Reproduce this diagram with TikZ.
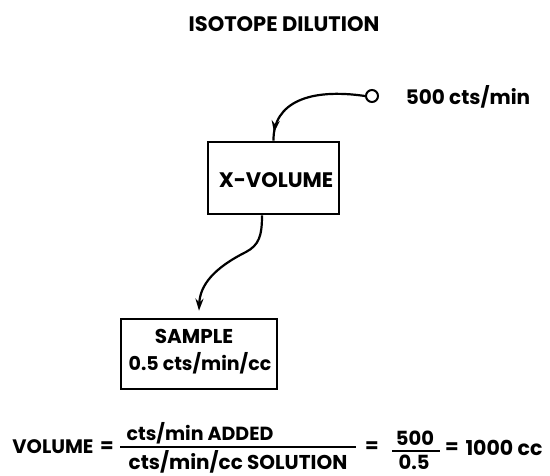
\documentclass[tikz,border=0pt]{standalone}
\usepackage{fontspec}
\setmainfont{Poppins}
\usetikzlibrary{arrows.meta,decorations.markings}
\begin{document}
\begin{tikzpicture}[x=1pt,y=-1pt,
  lbl/.style={inner sep=0pt,font=\fontsize{19.5}{21}\selectfont\bfseries},
  boxed/.style={draw,line width=2.6pt,inner sep=0pt},
  conn/.style={line width=2.2pt},
  tip/.style={-{Stealth[length=12pt,width=8pt]}}]
\useasboundingbox[fill=white] (0,0) rectangle (550,476);
\node[lbl,font=\fontsize{21}{22}\selectfont\bfseries] (title) at (284,24) {ISOTOPE DILUTION};
\node[draw,circle,line width=2pt,minimum size=12pt,inner sep=0pt] (src) at (372,96) {};
\node[lbl,font=\fontsize{20}{22}\selectfont\bfseries] (srclbl) at (468,97) {500 cts/min};
\node[boxed,minimum width=131pt,minimum height=72pt] (xv) at (273.5,178) {};
\node[lbl,font=\fontsize{21}{23}\selectfont\bfseries] (xvt) at (276,180) {X-VOLUME};
\node[boxed,minimum width=156pt,minimum height=70pt] (sample) at (199,354) {};
\node[lbl,font=\fontsize{20}{22}\selectfont\bfseries] (st1) at (194,336) {SAMPLE};
\node[lbl,font=\fontsize{19}{21}\selectfont\bfseries] (st2) at (200,363) {0.5 cts/min/cc};
\coordinate (a2end) at ([yshift=7pt]sample.north);
\draw[conn,decoration={markings,mark=at position 0.93 with {\arrow{Stealth[length=12pt,width=8pt]}}},postaction={decorate}]
  (src.west) .. controls (310,88) and (273,102) .. (xv.north);
\draw[conn,tip] ([xshift=-11.5pt]xv.south) .. controls (262,236) and (259,245) .. (246,252)
  .. controls (214,268) and (200,285) .. (a2end);
% equation
\node[lbl] (vol) at (53,447) {VOLUME};
\node[lbl] (eq1) at (107,447) {=};
\node[lbl,font=\fontsize{19}{21}\selectfont\bfseries] (num) at (200,433) {cts/min ADDED};
\node[lbl,font=\fontsize{20}{21}\selectfont\bfseries] (den) at (238,462) {cts/min/cc SOLUTION};
\coordinate (fl) at (120,447);
\coordinate (fr) at (356,447);
\draw[line width=1.8pt] (fl) -- (fr);
\node[lbl] (eq2) at (372,447) {=};
\node[lbl] (n500) at (415,438) {500};
\node[lbl] (d05) at (414,462) {0.5};
\draw[line width=1.8pt] (392,451) coordinate (ul) -- (440,451) coordinate (ur);
\node[lbl] (eq3) at (452,448) {=};
\node[lbl,font=\fontsize{20.5}{21}\selectfont\bfseries] (res) at (504,448) {1000 cc};
\end{tikzpicture}
\end{document}
